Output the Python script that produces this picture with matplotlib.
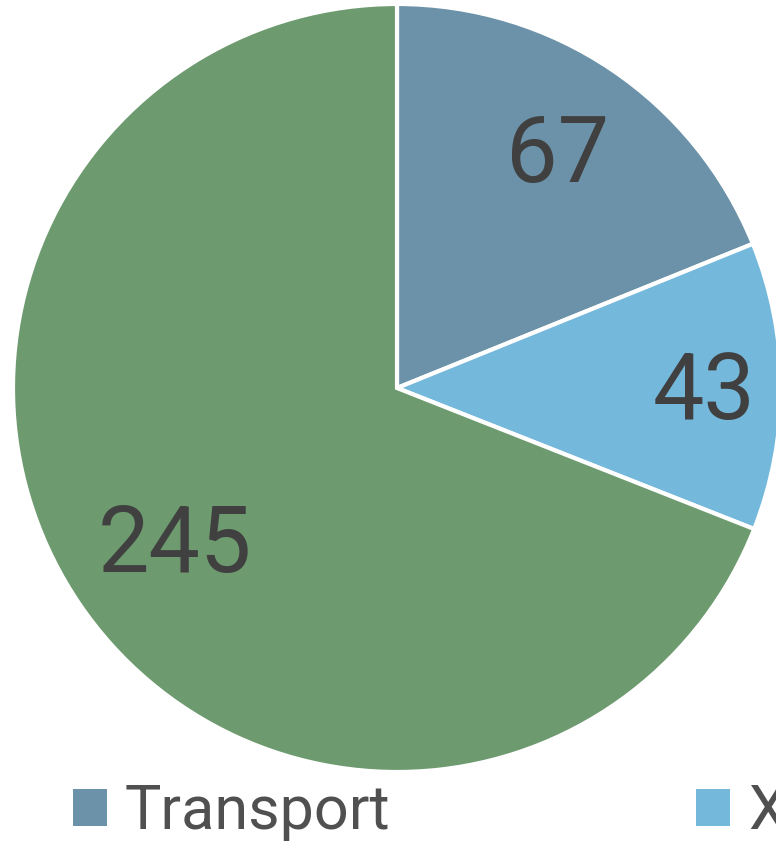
import numpy as np
import matplotlib.pyplot as plt

labels = ['Transport', 'X', '']
values = [67, 43, 245]
colors = ['#6b92a8', '#74b8dc', '#6d9a6e']
label_dist = [0.75, 0.80, 0.70]

plt.rcParams['font.family'] = ['Roboto', 'DejaVu Sans']

fig = plt.figure(figsize=(7.76, 8.5), dpi=100)
ax = fig.add_axes([0, 0, 1, 1])

wedges, texts, autotexts = ax.pie(
    values, colors=colors, startangle=90, counterclock=False,
    autopct=lambda p: '%d' % round(p * sum(values) / 100.0),
    wedgeprops=dict(edgecolor='white', linewidth=3),
    textprops=dict(color='#404040', fontsize=66))

# move each value label to its own radius along the slice bisector
for w, t, d in zip(wedges, autotexts, label_dist):
    ang = np.deg2rad((w.theta1 + w.theta2) / 2.0)
    t.set_position((d * np.cos(ang), d * np.sin(ang) - 0.018))

# pixel-matched limits: centre at (397, 388), radius 384 px
r = 384.0
ax.set_xlim(-397 / r, (776 - 397) / r)
ax.set_ylim(-(850 - 388) / r, 388 / r)
ax.set_aspect('equal')
ax.axis('off')

leg = fig.legend(wedges[:2], labels[:2], loc='upper left',
                 bbox_to_anchor=(73 / 776, 1 - 783 / 850), ncol=2,
                 frameon=False, fontsize=44, labelcolor='#505050',
                 handlelength=0.55, handleheight=0.55, handletextpad=0.3,
                 columnspacing=5.0, borderaxespad=0, borderpad=0)
for h in leg.legend_handles:
    h.set_edgecolor('none')

fig.savefig('out.png', dpi=100)
